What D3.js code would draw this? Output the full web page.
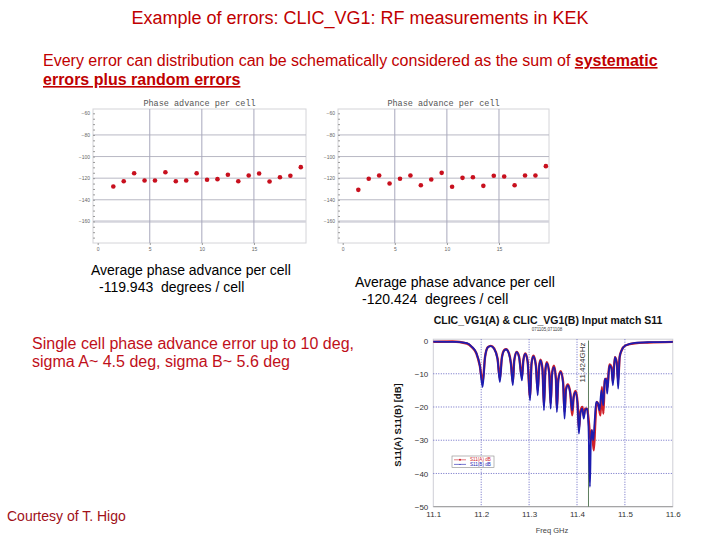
<!DOCTYPE html>
<html>
<head>
<meta charset="utf-8">
<script src="https://cdn.jsdelivr.net/npm/d3@7/dist/d3.min.js"></script>
<style>
body { margin: 0; background: #fff; }
svg { display: block; font-family: "Liberation Sans", Arial, sans-serif; }
</style>
</head>
<body>
<svg id="slide" width="720" height="540"></svg>
<script>
// Phase advance per cell (deg), cells A and B.
var cellPos = [1.5, 2.5, 3.5, 4.5, 5.5, 6.5, 7.5, 8.5, 9.5, 10.5,
               11.5, 12.5, 13.5, 14.5, 15.5, 16.5, 17.5, 18.5, 19.5];
var phaseA = [-127.7, -122.8, -115.4, -122.2, -122.2, -114.5, -122.8, -122.2, -115.4, -121.5,
              -120.9, -116.9, -122.8, -117.5, -115.7, -123.1, -119.1, -117.8, -109.8];
var phaseB = [-130.8, -120.6, -117.5, -124.9, -120.6, -117.5, -126.5, -121.2, -115.1, -128.0,
              -119.7, -119.1, -127.1, -117.8, -118.5, -126.5, -117.5, -117.5, -108.9];
var phaseTicksY = [-60, -80, -100, -120, -140, -160];
var phaseGridY = [-80, -100, -120, -140];
var phaseTicksX = [0, 5, 10, 15];

// Input match S11, [freq GHz, dB].
var s11A = [
    [11.100, -0.4], [11.140, -0.3], [11.170, -0.9], [11.180, -1.9], [11.190, -3.9], [11.197, -7.5],
    [11.203, -12.5], [11.208, -5], [11.214, -2.0], [11.220, -1.6], [11.227, -2.4], [11.234, -5.3],
    [11.239, -11.5], [11.243, -5.3], [11.248, -2.9], [11.252, -2.6], [11.258, -3.9], [11.262, -6.8],
    [11.266, -12.5], [11.269, -6], [11.274, -3.4], [11.279, -4.8], [11.285, -11], [11.288, -6],
    [11.292, -3.9], [11.297, -6.3], [11.302, -17], [11.305, -7], [11.309, -4.6], [11.314, -7.2],
    [11.318, -15], [11.321, -7.8], [11.324, -5.8], [11.328, -8.6], [11.331, -19.5], [11.334, -8.8],
    [11.337, -6.5], [11.342, -9.6], [11.345, -19], [11.348, -9.7], [11.352, -7.6], [11.356, -11.5],
    [11.358, -20.5], [11.361, -11.6], [11.366, -9.2], [11.371, -12.5], [11.374, -21.5], [11.377, -14.5],
    [11.381, -13.2], [11.386, -15.8], [11.390, -22.5], [11.393, -17], [11.397, -15.2], [11.401, -18.5],
    [11.404, -26.5], [11.407, -21.5], [11.411, -20], [11.414, -22.5], [11.417, -20.5], [11.421, -20.5],
    [11.425, -25], [11.428, -30], [11.431, -27], [11.435, -33], [11.438, -25], [11.441, -18.5],
    [11.445, -19.5], [11.449, -22.5], [11.452, -14], [11.455, -22], [11.458, -12], [11.461, -11.5],
    [11.464, -14], [11.466, -9.5], [11.468, -7.2], [11.472, -8], [11.475, -12.5], [11.479, -5],
    [11.483, -6.5], [11.486, -12], [11.489, -5], [11.493, -3], [11.501, -1.5], [11.521, -0.8],
    [11.550, -0.6], [11.600, -0.4]
];
var s11B = [
    [11.100, -0.3], [11.150, -0.4], [11.170, -0.8], [11.180, -1.8], [11.190, -3.8], [11.197, -7.5],
    [11.203, -14], [11.208, -5], [11.214, -2.0], [11.220, -1.7], [11.227, -2.5], [11.234, -5.5],
    [11.239, -12.5], [11.243, -5.5], [11.248, -3.0], [11.252, -2.7], [11.258, -4], [11.262, -7],
    [11.266, -13.5], [11.269, -6], [11.274, -3.5], [11.279, -5], [11.285, -12], [11.288, -6],
    [11.292, -4], [11.297, -6.5], [11.302, -18], [11.305, -7], [11.309, -4.8], [11.314, -7.5],
    [11.318, -16.5], [11.321, -8], [11.324, -6], [11.328, -9], [11.331, -21], [11.334, -9],
    [11.337, -6.8], [11.342, -10], [11.345, -20.5], [11.348, -10], [11.352, -8], [11.356, -12],
    [11.358, -21.5], [11.361, -12], [11.366, -9.5], [11.371, -13], [11.374, -23.5], [11.377, -15],
    [11.381, -13.5], [11.386, -16], [11.390, -21], [11.393, -17], [11.397, -15.5], [11.401, -19],
    [11.404, -28], [11.407, -22], [11.411, -20.5], [11.414, -23.5], [11.417, -21], [11.421, -20.5],
    [11.424, -26], [11.427, -44], [11.429, -30], [11.431, -27], [11.434, -30], [11.437, -24],
    [11.440, -18.5], [11.444, -19], [11.447, -21], [11.451, -15], [11.455, -19.5], [11.458, -11.5],
    [11.461, -12], [11.463, -16], [11.466, -10], [11.468, -7.5], [11.472, -8.5], [11.475, -13.5],
    [11.479, -5], [11.483, -7], [11.486, -14.5], [11.489, -5], [11.493, -3], [11.501, -1.5],
    [11.521, -0.7], [11.550, -0.5], [11.600, -0.4]
];
var s11TicksX = [11.1, 11.2, 11.3, 11.4, 11.5, 11.6];
var s11TicksY = [0, -10, -20, -30, -40, -50];
var s11GridX = [11.2, 11.3, 11.4, 11.5];
var s11GridY = [-10, -20, -30, -40];
var markerFreq = 11.424;

var svg = d3.select('#slide');
var red = '#c00000';

svg.append('rect')
    .attr('width', 720)
    .attr('height', 540)
    .attr('fill', '#fff');

// Slide heading.
svg.append('text')
    .attr('x', 360)
    .attr('y', 24)
    .attr('text-anchor', 'middle')
    .attr('font-size', 18)
    .attr('fill', red)
    .text('Example of errors: CLIC_VG1: RF measurements in KEK');

var intro = svg.append('text')
    .attr('x', 43)
    .attr('y', 66)
    .attr('font-size', 16)
    .attr('fill', red);
intro.append('tspan')
    .text('Every error can distribution can be schematically considered as the sum of ');
intro.append('tspan')
    .attr('font-weight', 'bold')
    .attr('text-decoration', 'underline')
    .text('systematic');
svg.append('text')
    .attr('x', 43)
    .attr('y', 85)
    .attr('font-size', 16)
    .attr('font-weight', 'bold')
    .attr('text-decoration', 'underline')
    .attr('fill', red)
    .text('errors plus random errors');

function phasePlot(box, xDomain, values) {
    var x = d3.scaleLinear().domain(xDomain).range([box.left, box.right]);
    var y = d3.scaleLinear().domain([-180, -56]).range([box.bottom, box.top]);
    var g = svg.append('g');

    g.append('text')
        .attr('x', (box.left + box.right) / 2)
        .attr('y', box.top - 3)
        .attr('text-anchor', 'middle')
        .attr('font-family', '"Liberation Mono", "DejaVu Sans Mono", monospace')
        .attr('font-size', 8.5)
        .attr('fill', '#555')
        .text('Phase advance per cell');

    g.append('rect')
        .attr('x', box.left)
        .attr('y', box.top)
        .attr('width', box.right - box.left)
        .attr('height', box.bottom - box.top)
        .attr('fill', '#fff')
        .attr('stroke', '#d4d4d8');

    // Grid.
    g.selectAll('line.gy')
        .data(phaseGridY)
        .enter().append('line')
        .attr('x1', box.left).attr('x2', box.right)
        .attr('y1', function(d) { return y(d); })
        .attr('y2', function(d) { return y(d); })
        .attr('stroke', '#b8b8c4');
    g.append('line')
        .attr('x1', box.left).attr('x2', box.right)
        .attr('y1', y(-160)).attr('y2', y(-160))
        .attr('stroke', '#d4d4dc')
        .attr('stroke-width', 2.5);
    g.selectAll('line.gx')
        .data(phaseTicksX.slice(1))
        .enter().append('line')
        .attr('x1', function(d) { return x(d); })
        .attr('x2', function(d) { return x(d); })
        .attr('y1', box.top).attr('y2', box.bottom)
        .attr('stroke', '#a8a8bc');

    // Axes: labels, then minor ticks on their own group.
    var yAxis = g.append('g')
        .attr('transform', 'translate(' + box.left + ',0)')
        .call(d3.axisLeft(y).tickValues(phaseTicksY).tickSize(0).tickPadding(3));
    var yMinor = g.append('g')
        .attr('transform', 'translate(' + box.left + ',0)')
        .call(d3.axisLeft(y).tickValues(d3.range(-175, -56, 5)).tickSize(-2).tickFormat(''));
    var xAxis = g.append('g')
        .attr('transform', 'translate(0,' + box.bottom + ')')
        .call(d3.axisBottom(x).tickValues(phaseTicksX).tickSize(2).tickPadding(2));
    [yAxis, yMinor, xAxis].forEach(function(a) {
        a.select('.domain').remove();
        a.selectAll('line').attr('stroke', '#999');
        a.selectAll('text')
            .attr('font-size', 5)
            .attr('fill', '#666');
    });

    g.selectAll('circle')
        .data(values)
        .enter().append('circle')
        .attr('cx', function(d, i) { return x(cellPos[i]); })
        .attr('cy', function(d) { return y(d); })
        .attr('r', 2.3)
        .attr('fill', '#c8101e');
}

phasePlot({ left: 93, right: 306, top: 109, bottom: 243 }, [-0.45, 20.0], phaseA);
phasePlot({ left: 338, right: 549, top: 109, bottom: 243 }, [-0.45, 19.8], phaseB);

// Averages and notes.
function note(x, y, size, lines, color) {
    var t = svg.append('text')
        .attr('font-size', size)
        .attr('fill', color)
        .style('white-space', 'pre');
    lines.forEach(function(l, i) {
        t.append('tspan')
            .attr('x', x + l[0])
            .attr('y', y + i * l[1])
            .text(l[2]);
    });
}
note(91, 275, 14, [[0, 0, 'Average phase advance per cell'], [8, 17, '-119.943  degrees / cell']], '#000');
note(355, 287, 14, [[0, 0, 'Average phase advance per cell'], [7, 17, '-120.424  degrees / cell']], '#000');
note(32, 349, 16, [[0, 0, 'Single cell phase advance error up to 10 deg,'], [0, 18, 'sigma A~ 4.5 deg, sigma B~ 5.6 deg']], '#c0101a');

svg.append('text')
    .attr('x', 7)
    .attr('y', 521)
    .attr('font-size', 14)
    .attr('fill', '#a01018')
    .text('Courtesy of T. Higo');

// S11 plot.
var sx = d3.scaleLinear().domain([11.1, 11.6]).range([433.3, 672.8]);
var sy = d3.scaleLinear().domain([-50, 0.4]).range([506.7, 339.2]);
var sg = svg.append('g');

sg.append('text')
    .attr('x', 548)
    .attr('y', 324)
    .attr('text-anchor', 'middle')
    .attr('font-size', 10.5)
    .attr('font-weight', 'bold')
    .attr('fill', '#111')
    .text('CLIC_VG1(A)  &  CLIC_VG1(B)  Input match S11');
sg.append('text')
    .attr('x', 547)
    .attr('y', 331)
    .attr('text-anchor', 'middle')
    .attr('font-size', 4.5)
    .attr('fill', '#444')
    .text('071105,071108');

sg.append('rect')
    .attr('x', sx(11.1))
    .attr('y', sy(0.4))
    .attr('width', sx(11.6) - sx(11.1))
    .attr('height', sy(-50) - sy(0.4))
    .attr('fill', '#fff')
    .attr('stroke', '#cfcfd6');

sg.selectAll('line.gy')
    .data(s11GridY)
    .enter().append('line')
    .attr('x1', sx(11.1)).attr('x2', sx(11.6))
    .attr('y1', function(d) { return sy(d); })
    .attr('y2', function(d) { return sy(d); })
    .attr('stroke', '#6a6ac4')
    .attr('stroke-dasharray', '1,1.5');
sg.selectAll('line.gx')
    .data(s11GridX)
    .enter().append('line')
    .attr('x1', function(d) { return sx(d); })
    .attr('x2', function(d) { return sx(d); })
    .attr('y1', sy(0.4)).attr('y2', sy(-50))
    .attr('stroke', '#6a6ac4')
    .attr('stroke-dasharray', '1,1.5');
sg.append('line')
    .attr('x1', sx(11.1)).attr('x2', sx(11.6))
    .attr('y1', sy(-50)).attr('y2', sy(-50))
    .attr('stroke', '#999');

var syAxis = sg.append('g')
    .attr('transform', 'translate(' + sx(11.1) + ',0)')
    .call(d3.axisLeft(sy).tickValues(s11TicksY).tickSize(0).tickPadding(5));
var sxAxis = sg.append('g')
    .attr('transform', 'translate(0,' + sy(-50) + ')')
    .call(d3.axisBottom(sx).tickValues(s11TicksX).tickSize(0).tickPadding(5).tickFormat(d3.format('.1f')));
[syAxis, sxAxis].forEach(function(a) {
    a.select('.domain').remove();
    a.selectAll('text')
        .attr('font-size', 8)
        .attr('fill', '#333');
});

sg.append('text')
    .attr('transform', 'translate(401,' + 425 + ') rotate(-90)')
    .attr('text-anchor', 'middle')
    .attr('font-size', 9.5)
    .attr('font-weight', 'bold')
    .attr('fill', '#111')
    .text('S11(A)  S11(B)  [dB]');
sg.append('text')
    .attr('x', 552)
    .attr('y', 533)
    .attr('text-anchor', 'middle')
    .attr('font-size', 7.5)
    .attr('fill', '#444')
    .text('Freq GHz');

// Marker at the operating frequency.
sg.append('line')
    .attr('x1', sx(markerFreq)).attr('x2', sx(markerFreq))
    .attr('y1', sy(0)).attr('y2', sy(-50))
    .attr('stroke', '#5f7f5f');
sg.append('text')
    .attr('transform', 'translate(' + (sx(markerFreq) - 3) + ',' + (sy(0) + 2) + ') rotate(-90)')
    .attr('text-anchor', 'end')
    .attr('font-size', 8)
    .attr('fill', '#333')
    .text('11.424GHz');

var line = d3.line()
    .x(function(d) { return sx(d[0]); })
    .y(function(d) { return sy(d[1]); })
    .curve(d3.curveMonotoneX);

sg.append('path')
    .datum(s11A)
    .attr('d', line)
    .attr('fill', 'none')
    .attr('stroke', '#d0202a')
    .attr('stroke-width', 2.4);
sg.append('path')
    .datum(s11B)
    .attr('d', line)
    .attr('fill', 'none')
    .attr('stroke', '#1c1cb0')
    .attr('stroke-width', 1.8);

// Legend.
var lg = sg.append('g').attr('transform', 'translate(452,456)');
lg.append('rect')
    .attr('width', 42)
    .attr('height', 11.5)
    .attr('fill', '#fff')
    .attr('stroke', '#888')
    .attr('stroke-width', 0.6);
[['S11(A) dB', '#d0202a'], ['S11(B) dB', '#1c1cb0']].forEach(function(d, i) {
    var yy = 3.8 + i * 4.6;
    lg.append('line')
        .attr('x1', 2).attr('x2', 14)
        .attr('y1', yy).attr('y2', yy)
        .attr('stroke', d[1])
        .attr('stroke-width', 0.6);
    lg.append('circle')
        .attr('cx', 8).attr('cy', yy)
        .attr('r', i === 0 ? 1 : 0.5)
        .attr('fill', d[1]);
    lg.append('text')
        .attr('x', 18)
        .attr('y', yy + 1.6)
        .attr('font-size', 4.6)
        .attr('fill', d[1])
        .text(d[0]);
});
</script>
</body>
</html>
